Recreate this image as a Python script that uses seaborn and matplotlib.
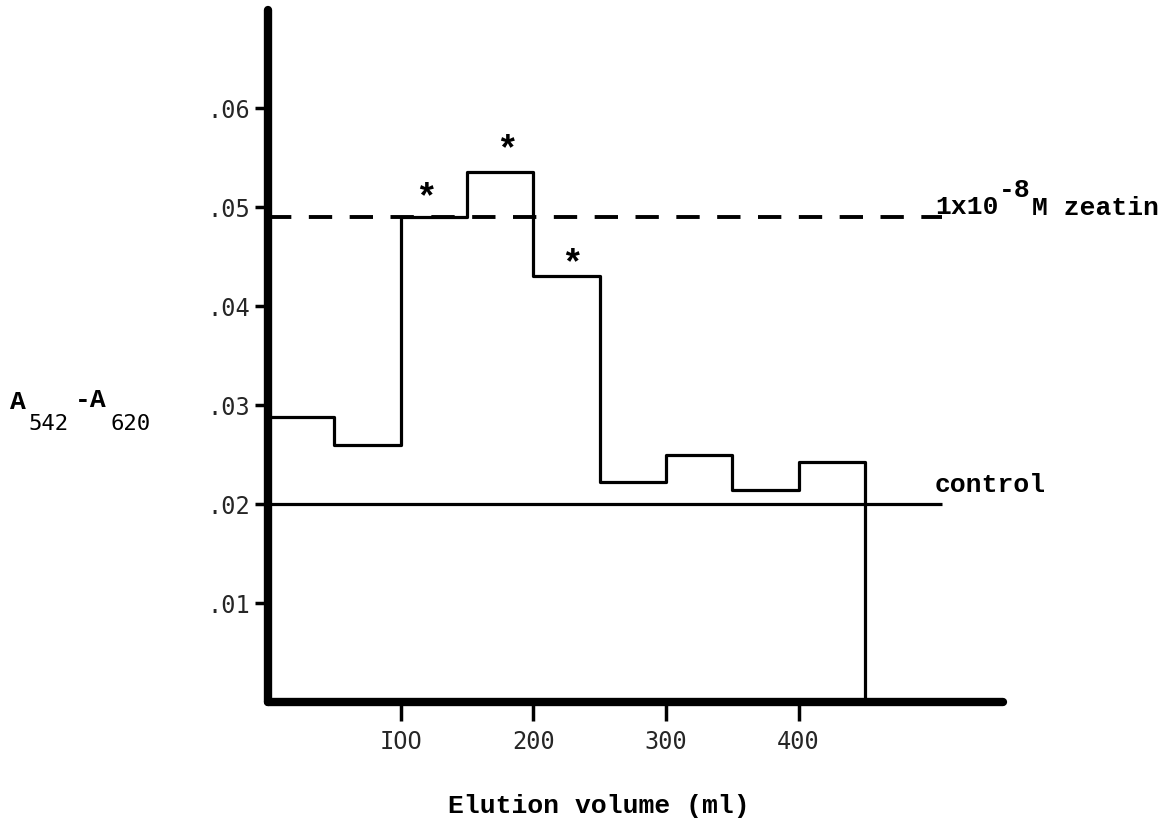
import matplotlib
matplotlib.use("Agg")
import matplotlib.pyplot as plt
import seaborn as sns
import pandas as pd

# ---- data ----
bin_edges = [0, 50, 100, 150, 200, 250, 300, 350, 400, 450]
absorbance = [0.0288, 0.0260, 0.0490, 0.0535, 0.0430, 0.0222, 0.0250, 0.0214, 0.0242]
zeatin_level = 0.049
control_level = 0.020
reference_end = 508
star_x = [119, 180, 229]
star_y = [0.0499, 0.0547, 0.0432]
y_ticks = [0.01, 0.02, 0.03, 0.04, 0.05, 0.06]
y_tick_labels = [".01", ".02", ".03", ".04", ".05", ".06"]
x_ticks = [100, 200, 300, 400]
x_tick_labels = ["IOO", "200", "300", "400"]

sns.set_theme(style="white")
plt.rcParams["font.family"] = ["Liberation Mono", "DejaVu Sans"]

W, H = 1174, 825
fig = plt.figure(figsize=(W / 100, H / 100), dpi=100)
ax = fig.add_axes([268 / W, (H - 702) / H, 735 / W, 692 / H])

df = pd.DataFrame({"volume": bin_edges, "absorbance": absorbance + [0.0]})
sns.lineplot(data=df, x="volume", y="absorbance", drawstyle="steps-post",
             color="black", lw=2.3, ax=ax, estimator=None, sort=False)

ax.hlines(zeatin_level, 0, reference_end, colors="black", lw=2.8,
          linestyles=(0, (6, 4.5)))
ax.hlines(control_level, 0, reference_end, colors="black", lw=2.3)

for sx, sy in zip(star_x, star_y):
    ax.text(sx, sy, "*", ha="center", va="baseline", fontsize=26,
            family="Liberation Mono", fontweight="bold", color="black")

ax.set_xlim(0, 554)
ax.set_ylim(0, 0.0699)
sns.despine(ax=ax)
for side in ("left", "bottom"):
    ax.spines[side].set_linewidth(6)
    ax.spines[side].set_color("black")
    ax.spines[side].set_capstyle("round")

ax.set_yticks(y_ticks)
ax.set_yticklabels(y_tick_labels, fontsize=17, family="DejaVu Sans Mono")
ax.set_xticks(x_ticks)
ax.set_xticklabels(x_tick_labels, fontsize=17, family="DejaVu Sans Mono")
ax.tick_params(axis="y", direction="out", length=9.5, width=2.5, pad=3.5,
               color="black", left=True)
ax.tick_params(axis="x", direction="out", length=13.5, width=2.5, pad=7,
               color="black", bottom=True)
ax.set_xlabel("")
ax.set_ylabel("")
ax.grid(False)


def ftext(x, y, s, **kw):
    fig.text(x / W, 1 - y / H, s, va="baseline", color="black", **kw)


mono = dict(family="Liberation Mono", fontweight="bold")
sub = dict(family="DejaVu Sans Mono")

# x axis label
ftext(599, 813, "Elution volume (ml)", ha="center", fontsize=19, **mono)

# y axis label pieces
ftext(10, 409, "A", fontsize=19, **mono)
ftext(28, 430, "542", fontsize=16, **sub)
ftext(75, 407, "-A", fontsize=19, **mono)
ftext(110, 430, "620", fontsize=16, **sub)

# zeatin label
ftext(935, 214, "1x10", fontsize=19, **mono)
ftext(999, 197, "-8", fontsize=19, **mono)
ftext(1032, 215, "M zeatin", fontsize=19, **mono)

# control label
ftext(935, 492, "control", fontsize=19, **mono)

fig.savefig("out.png", dpi=100, facecolor="white")
